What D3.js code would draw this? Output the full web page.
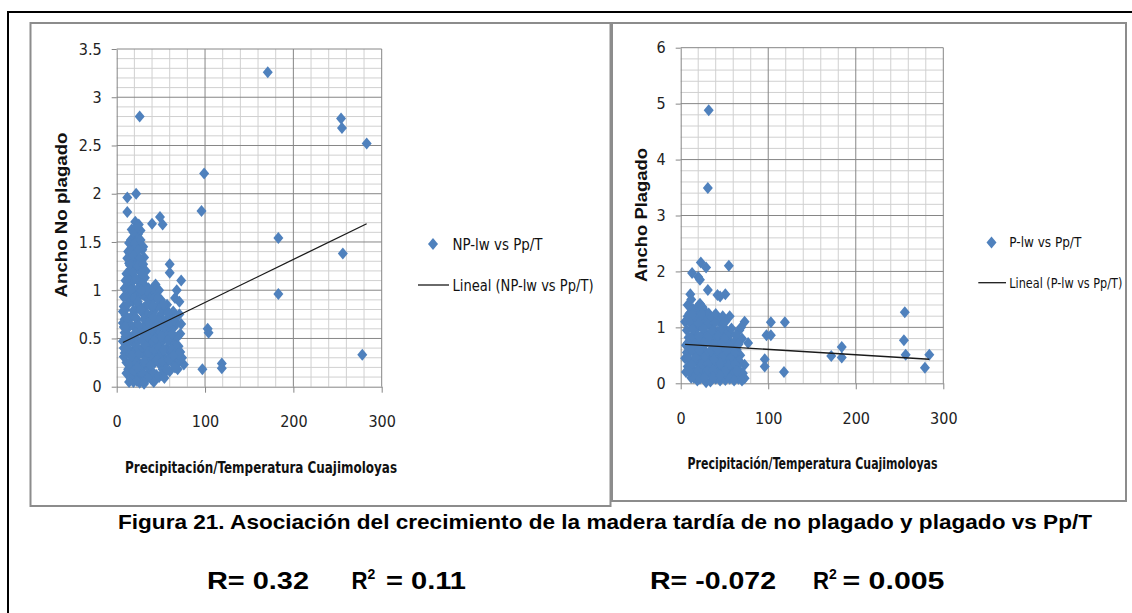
<!DOCTYPE html>
<html>
<head>
<meta charset="utf-8">
<script src="https://cdn.jsdelivr.net/npm/d3@7"></script>
<style>
  body { margin: 0; background: #fff; }
  svg { display: block; }
</style>
</head>
<body>
<script>
// Canvas size
const width = 1132, height = 613;

// ---- data ----
const xTicks = [0, 100, 200, 300];
const npYTicks = [0, 0.5, 1, 1.5, 2, 2.5, 3, 3.5];
const pYTicks = [0, 1, 2, 3, 4, 5, 6];

// NP-lw vs Pp/T  [Pp/T, ancho]
const npData = [
  [171, 3.26], [26, 2.80], [254, 2.78], [255, 2.68], [283, 2.52], [99, 2.21], [96, 1.82],
  [183, 1.54], [183, 0.96], [256, 1.38], [278, 0.33], [103, 0.60], [104, 0.56], [97, 0.18],
  [119, 0.24], [119, 0.19],
  [12, 1.96], [22, 2.00], [12, 1.81], [21, 1.71], [25, 1.68], [40, 1.69], [49, 1.76], [52, 1.68],
  [60, 1.27], [60, 1.18], [73, 1.10], [68, 1.00], [71, 0.88], [73, 0.65], [76, 0.23], [70, 0.26],
  [8, 0.83], [9, 0.70], [7, 0.66], [10, 0.52], [9, 0.35], [11, 0.42], [12, 0.60], [10, 0.80],
  [13, 0.95], [12, 1.05], [14, 1.28], [13, 1.40], [15, 1.38], [14, 1.15], [11, 0.25], [13, 0.18],
  [12, 0.92], [10, 0.74], [9, 0.46],
  [16, 1.52], [17, 1.63], [18, 1.45], [16, 1.22], [19, 1.30], [17, 1.08], [18, 0.88], [16, 0.72],
  [20, 0.62], [17, 0.50], [19, 0.38], [18, 0.28], [16, 0.15], [19, 0.05], [21, 1.55], [22, 1.25],
  [20, 1.12], [21, 0.98], [22, 0.80], [20, 0.44], [21, 0.30], [22, 0.12], [20, 0.22], [18, 1.02],
  [24, 1.58], [25, 1.47], [23, 1.35], [26, 1.20], [24, 1.10], [27, 0.95], [25, 0.85], [23, 0.70],
  [26, 0.58], [24, 0.48], [28, 0.35], [25, 0.25], [27, 0.15], [26, 0.04], [29, 1.42], [28, 1.30],
  [30, 1.45], [29, 1.15], [28, 0.78], [30, 0.62], [29, 0.40], [30, 0.20], [28, 0.08], [27, 1.62],
  [31, 1.34], [33, 1.20], [32, 1.05], [34, 0.92], [31, 0.82], [35, 0.75], [33, 0.55], [36, 0.45],
  [32, 0.32], [35, 0.22], [34, 0.12], [38, 0.98], [37, 0.85], [39, 0.65], [40, 0.52], [38, 0.38],
  [40, 0.28], [37, 0.18], [39, 0.08], [36, 1.02],
  [42, 1.03], [44, 0.96], [43, 0.80], [46, 0.70], [45, 0.58], [47, 0.45], [44, 0.34], [48, 0.24],
  [45, 0.12], [50, 0.90], [52, 0.80], [49, 0.62], [53, 0.55], [51, 0.40], [54, 0.30], [52, 0.18],
  [48, 1.00], [55, 0.68], [46, 0.10],
  [57, 0.85], [60, 0.72], [58, 0.60], [62, 0.48], [59, 0.36], [63, 0.25], [60, 0.16], [65, 0.62],
  [67, 0.50], [66, 0.38], [68, 0.30], [70, 0.42], [72, 0.55], [64, 0.78], [69, 0.18], [74, 0.30],
  [66, 0.92], [71, 0.75],
  [19, 1.60], [23, 1.66], [14, 1.49], [20, 1.48], [27, 1.52], [17, 1.40], [24, 1.41],
  [12, 1.33], [19, 1.36], [26, 1.33], [15, 1.26], [24, 1.25], [30, 1.27], [11, 1.17], [18, 1.18],
  [28, 1.19], [14, 1.10], [22, 1.12], [32, 1.13], [9, 1.02], [16, 1.00], [25, 1.03], [29, 1.06],
  [40, 1.01], [8, 0.93], [20, 0.92], [30, 0.95], [41, 0.90], [13, 0.86], [24, 0.88], [35, 0.86],
  [46, 0.84], [56, 0.80], [7, 0.78], [19, 0.79], [27, 0.80], [41, 0.77], [50, 0.75], [62, 0.70],
  [12, 0.69], [21, 0.72], [31, 0.70], [38, 0.72], [53, 0.68], [68, 0.66], [8, 0.62], [16, 0.64],
  [25, 0.64], [34, 0.63], [43, 0.64], [61, 0.60], [12, 0.55], [21, 0.56], [29, 0.55], [38, 0.57],
  [47, 0.54], [56, 0.52], [69, 0.52], [7, 0.47], [15, 0.48], [29, 0.48], [41, 0.46], [52, 0.47],
  [64, 0.44], [12, 0.40], [24, 0.40], [33, 0.42], [45, 0.40], [57, 0.40], [67, 0.42], [8, 0.31],
  [15, 0.33], [25, 0.33], [37, 0.31], [49, 0.32], [61, 0.31], [72, 0.36], [14, 0.24], [22, 0.25],
  [31, 0.26], [43, 0.25], [56, 0.24], [66, 0.20], [11, 0.14], [19, 0.16], [30, 0.13], [40, 0.16],
  [51, 0.12], [57, 0.17], [16, 0.08], [23, 0.06], [32, 0.07], [42, 0.05],
  [36, 0.66], [42, 0.72], [48, 0.68], [54, 0.62], [59, 0.66], [65, 0.70], [35, 0.52], [44, 0.50],
  [50, 0.52], [58, 0.48], [63, 0.55], [36, 0.36], [42, 0.38], [48, 0.40], [53, 0.38], [62, 0.38],
  [70, 0.34], [38, 0.22], [46, 0.28], [52, 0.26], [59, 0.28], [64, 0.32], [35, 0.09], [48, 0.10],
  [54, 0.09], [41, 0.84], [47, 0.92], [53, 0.86], [58, 0.76], [34, 1.00], [44, 1.06], [28, 1.00],
  [10, 1.10], [9, 0.56], [8, 0.40], [10, 0.62], [14, 0.05], [31, 0.03], [23, 0.20], [17, 0.32]
];

// P-lw vs Pp/T  [Pp/T, ancho]
const pData = [
  [32, 4.88], [31, 3.49], [23, 2.16], [29, 2.07], [13, 1.97], [55, 2.10], [22, 1.85], [11, 1.59],
  [31, 1.67], [42, 1.58], [51, 1.59], [20, 1.90], [45, 1.55], [56, 1.20], [73, 1.10], [77, 0.72],
  [73, 0.33], [73, 0.09], [103, 1.09], [119, 1.09], [98, 0.86], [103, 0.86], [96, 0.43], [96, 0.30],
  [118, 0.20], [172, 0.49], [184, 0.65], [184, 0.46], [256, 1.27], [255, 0.77], [257, 0.51],
  [279, 0.28], [284, 0.51],
  [5, 1.10], [6, 0.68], [7, 0.95], [5, 0.45], [8, 0.30], [6, 0.20], [9, 0.82], [10, 1.25],
  [8, 1.40], [11, 0.58], [12, 0.10], [13, 1.05], [14, 0.40], [10, 0.70], [12, 1.50], [15, 0.88],
  [14, 0.25], [7, 0.55],
  [16, 1.30], [18, 1.15], [17, 0.95], [19, 0.75], [16, 0.60], [18, 0.48], [20, 0.35], [17, 0.18],
  [19, 0.05], [22, 1.42], [21, 1.22], [23, 1.02], [24, 0.85], [22, 0.66], [25, 0.52], [23, 0.40],
  [21, 0.28], [24, 0.12], [27, 1.30], [26, 1.10], [28, 0.90], [29, 0.72], [27, 0.58], [30, 0.45],
  [28, 0.30], [26, 0.20], [29, 0.02], [30, 1.18],
  [32, 1.25], [34, 1.05], [33, 0.88], [35, 0.70], [32, 0.55], [36, 0.42], [33, 0.28], [35, 0.15],
  [34, 0.03], [38, 1.20], [37, 0.95], [39, 0.80], [40, 0.62], [38, 0.50], [41, 0.35], [39, 0.22],
  [40, 0.08], [43, 1.12], [42, 0.92], [44, 0.75], [45, 0.60], [43, 0.45], [44, 0.30], [42, 0.18],
  [45, 0.05],
  [47, 1.05], [49, 0.85], [48, 0.68], [50, 0.55], [47, 0.40], [49, 0.25], [48, 0.12], [52, 0.95],
  [54, 0.78], [53, 0.62], [55, 0.48], [52, 0.35], [54, 0.20], [51, 0.06], [57, 0.88], [59, 0.70],
  [58, 0.55], [60, 0.40], [57, 0.28], [59, 0.15], [62, 0.75], [64, 0.60], [63, 0.45], [65, 0.32],
  [62, 0.20], [66, 0.08], [67, 0.95], [68, 0.50], [66, 0.25], [70, 0.80], [69, 1.00], [71, 0.18],
  [70, 0.05],
  [14, 1.33], [20, 1.38], [25, 1.36], [8, 1.20], [13, 1.22], [24, 1.24], [35, 1.18], [40, 1.24],
  [48, 1.20], [11, 1.08], [20, 1.07], [31, 1.05], [39, 1.08], [51, 1.10], [14, 0.96], [26, 0.98],
  [36, 0.94], [45, 0.95], [58, 0.98], [12, 0.80], [21, 0.83], [31, 0.82], [43, 0.84], [50, 0.80],
  [63, 0.86], [8, 0.72], [16, 0.70], [26, 0.72], [37, 0.68], [46, 0.70], [55, 0.68], [66, 0.70],
  [13, 0.58], [21, 0.58], [35, 0.58], [42, 0.60], [52, 0.58], [62, 0.55], [9, 0.44], [17, 0.46],
  [27, 0.45], [38, 0.42], [48, 0.46], [57, 0.44], [67, 0.40], [12, 0.33], [24, 0.33], [31, 0.34],
  [45, 0.35], [55, 0.33], [62, 0.35], [9, 0.22], [20, 0.22], [30, 0.22], [37, 0.24], [51, 0.22],
  [64, 0.22], [15, 0.10], [22, 0.08], [27, 0.10], [37, 0.10], [45, 0.14], [56, 0.08], [61, 0.05]
];

// Linear trend lines
const npTrend = { intercept: 0.427, slope: 0.00446 };
const pTrend = { intercept: 0.702, slope: -0.000957 };

// Text
const caption = "Figura 21. Asociación del crecimiento de la madera tardía de no plagado y plagado vs Pp/T";

// ---- drawing ----
const blue = "#4f81bd";
const majorGrid = "#868686", minorGrid = "#d0d0d0";
const chartFont = "'Liberation Sans Narrow', 'Arial Narrow', 'DejaVu Sans Condensed', sans-serif";
const boldFont = "'Liberation Sans', Arial, sans-serif";

const svg = d3.select("body")
    .append("svg")
    .attr("width", width)
    .attr("height", height);

svg.append("rect").attr("width", width).attr("height", height).attr("fill", "#fff");

// outer black border (page table)
svg.append("path")
    .attr("d", `M8,${height} V12 H${width}`)
    .attr("fill", "none")
    .attr("stroke", "#000")
    .attr("stroke-width", 2);

// chart frames
svg.append("rect")
    .attr("x", 30.5).attr("y", 23).attr("width", 580).attr("height", 483)
    .attr("fill", "none").attr("stroke", "#8c8c8c").attr("stroke-width", 2);
svg.append("rect")
    .attr("x", 612).attr("y", 23).attr("width", 514).attr("height", 478)
    .attr("fill", "none").attr("stroke", "#8c8c8c").attr("stroke-width", 2);

const diamond = "M0,-6L5,0L0,6L-5,0Z";

function drawChart(o) {
    const x = d3.scaleLinear().domain([0, 300]).range([o.x0, o.x1]);
    const y = d3.scaleLinear().domain([0, o.yMax]).range([o.y0, o.y1]);
    const g = svg.append("g");

    const isMajor = (v, step) => Math.abs(v / step - Math.round(v / step)) < 1e-6;

    // minor grid
    const xMinor = d3.range(20, 300, 20).filter(v => !isMajor(v, 100));
    const yMinor = d3.range(1, Math.round(o.yMax / o.yMinor)).map(i => +(i * o.yMinor).toFixed(2))
        .filter(v => !isMajor(v, o.yMajor));
    g.append("g").selectAll("line").data(xMinor).enter().append("line")
        .attr("x1", d => x(d)).attr("x2", d => x(d))
        .attr("y1", y(0)).attr("y2", y(o.yMax))
        .attr("stroke", minorGrid);
    g.append("g").selectAll("line").data(yMinor).enter().append("line")
        .attr("x1", x(0)).attr("x2", x(300))
        .attr("y1", d => y(d)).attr("y2", d => y(d))
        .attr("stroke", minorGrid);

    // major grid
    g.append("g").selectAll("line").data(xTicks.slice(1)).enter().append("line")
        .attr("x1", d => x(d)).attr("x2", d => x(d))
        .attr("y1", y(0)).attr("y2", y(o.yMax))
        .attr("stroke", majorGrid);
    g.append("g").selectAll("line").data(o.yTicks.slice(1)).enter().append("line")
        .attr("x1", x(0)).attr("x2", x(300))
        .attr("y1", d => y(d)).attr("y2", d => y(d))
        .attr("stroke", majorGrid);

    // axes
    const yAxis = g.append("g")
        .attr("transform", `translate(${x(0)},0)`)
        .call(d3.axisLeft(y).tickValues(o.yTicks).tickSizeInner(5).tickSizeOuter(0).tickPadding(10)
            .tickFormat(d => String(+d.toFixed(1))));
    const xAxis = g.append("g")
        .attr("transform", `translate(0,${y(0)})`)
        .call(d3.axisBottom(x).tickValues(xTicks).tickSizeInner(6).tickSizeOuter(0)
            .tickFormat(d3.format("d")));
    [yAxis, xAxis].forEach(a => {
        a.select(".domain").attr("stroke", majorGrid);
        a.selectAll(".tick line").attr("stroke", majorGrid);
        a.selectAll("text")
            .attr("fill", "#222")
            .style("font-family", chartFont)
            .style("font-size", "16px");
    });
    xAxis.selectAll("text").attr("y", 35).attr("dy", "0.35em");

    // points
    g.append("g").selectAll("path").data(o.data).enter().append("path")
        .attr("d", diamond)
        .attr("transform", d => `translate(${x(d[0])},${y(d[1])})`)
        .attr("fill", blue);

    // trend line
    const xs = d3.extent(o.data, d => d[0]);
    g.append("line")
        .attr("x1", x(xs[0])).attr("y1", y(o.trend.intercept + o.trend.slope * xs[0]))
        .attr("x2", x(xs[1])).attr("y2", y(o.trend.intercept + o.trend.slope * xs[1]))
        .attr("stroke", "#1a1a1a").attr("stroke-width", 1.3);

    // axis titles
    g.append("text")
        .attr("x", o.xTitle[0]).attr("y", o.xTitle[1]).attr("dy", "0.35em")
        .attr("text-anchor", "middle")
        .attr("textLength", o.xTitle[2]).attr("lengthAdjust", "spacingAndGlyphs")
        .style("font-family", chartFont).style("font-size", "16px").style("font-weight", "bold")
        .attr("fill", "#111")
        .text("Precipitación/Temperatura Cuajimoloyas");
    g.append("text")
        .attr("transform", `translate(${o.yTitle[0]},${o.yTitle[1]}) rotate(-90)`)
        .attr("dy", "0.35em")
        .attr("text-anchor", "middle")
        .attr("textLength", o.yTitle[2]).attr("lengthAdjust", "spacingAndGlyphs")
        .style("font-family", boldFont).style("font-size", "16px").style("font-weight", "bold")
        .attr("fill", "#111")
        .text(o.yLabel);

    // legend
    const lg = g.append("g");
    lg.append("path").attr("d", diamond)
        .attr("transform", `translate(${o.legend.dx},${o.legend.y1})`)
        .attr("fill", blue);
    lg.append("text")
        .attr("x", o.legend.tx).attr("y", o.legend.y1).attr("dy", "0.35em")
        .attr("textLength", o.legend.w1).attr("lengthAdjust", "spacingAndGlyphs")
        .style("font-family", chartFont).style("font-size", o.legend.fs + "px").attr("fill", "#111")
        .text(o.series);
    lg.append("line")
        .attr("x1", o.legend.lx0).attr("x2", o.legend.lx1)
        .attr("y1", o.legend.y2).attr("y2", o.legend.y2)
        .attr("stroke", "#1a1a1a").attr("stroke-width", 1.3);
    lg.append("text")
        .attr("x", o.legend.tx).attr("y", o.legend.y2).attr("dy", "0.35em")
        .attr("textLength", o.legend.w2).attr("lengthAdjust", "spacingAndGlyphs")
        .style("font-family", chartFont).style("font-size", o.legend.fs + "px").attr("fill", "#111")
        .text(`Lineal (${o.series})`);
}

drawChart({
    data: npData, trend: npTrend, yTicks: npYTicks, yMax: 3.5, yMinor: 0.1, yMajor: 0.5,
    x0: 116.7, x1: 381.7, y0: 386.7, y1: 49,
    xTitle: [261, 467, 272], yTitle: [61, 215, 165], yLabel: "Ancho No plagado",
    series: "NP-lw vs Pp/T",
    legend: { dx: 433, tx: 452.5, y1: 244, y2: 285, lx0: 418, lx1: 449, w1: 90, w2: 141, fs: 16 }
});

drawChart({
    data: pData, trend: pTrend, yTicks: pYTicks, yMax: 6, yMinor: 0.2, yMajor: 1,
    x0: 680.7, x1: 943.3, y0: 383.3, y1: 47.7,
    xTitle: [812.5, 463, 250], yTitle: [641, 215, 134], yLabel: "Ancho Plagado",
    series: "P-lw vs Pp/T",
    legend: { dx: 991.5, tx: 1009.3, y1: 242.5, y2: 282.7, lx0: 978.3, lx1: 1006, w1: 72, w2: 113, fs: 14 }
});

// caption and correlation values
svg.append("text")
    .attr("x", 118).attr("y", 529)
    .attr("textLength", 974).attr("lengthAdjust", "spacingAndGlyphs")
    .style("font-family", boldFont).style("font-size", "21px").style("font-weight", "bold")
    .attr("fill", "#000")
    .text(caption);

function stat(xR, wR, xR2, x2, wV, r, r2) {
    const t = svg.append("g")
        .style("font-family", boldFont).style("font-weight", "bold").attr("fill", "#000");
    t.append("text").attr("x", xR).attr("y", 589).style("font-size", "23px")
        .attr("textLength", wR).attr("lengthAdjust", "spacingAndGlyphs")
        .text(`R= ${r}`);
    t.append("text").attr("x", xR2).attr("y", 589).style("font-size", "23px")
        .attr("textLength", 16).attr("lengthAdjust", "spacingAndGlyphs").text("R");
    t.append("text").attr("x", xR2 + 16).attr("y", 579).style("font-size", "14px").text("2");
    t.append("text").attr("x", x2).attr("y", 589).style("font-size", "23px")
        .attr("textLength", wV).attr("lengthAdjust", "spacingAndGlyphs")
        .text(`= ${r2}`);
}
stat(207, 102, 351.5, 386, 80, "0.32", "0.11");
stat(650, 126, 813, 842.5, 102, "-0.072", "0.005");
</script>
</body>
</html>
